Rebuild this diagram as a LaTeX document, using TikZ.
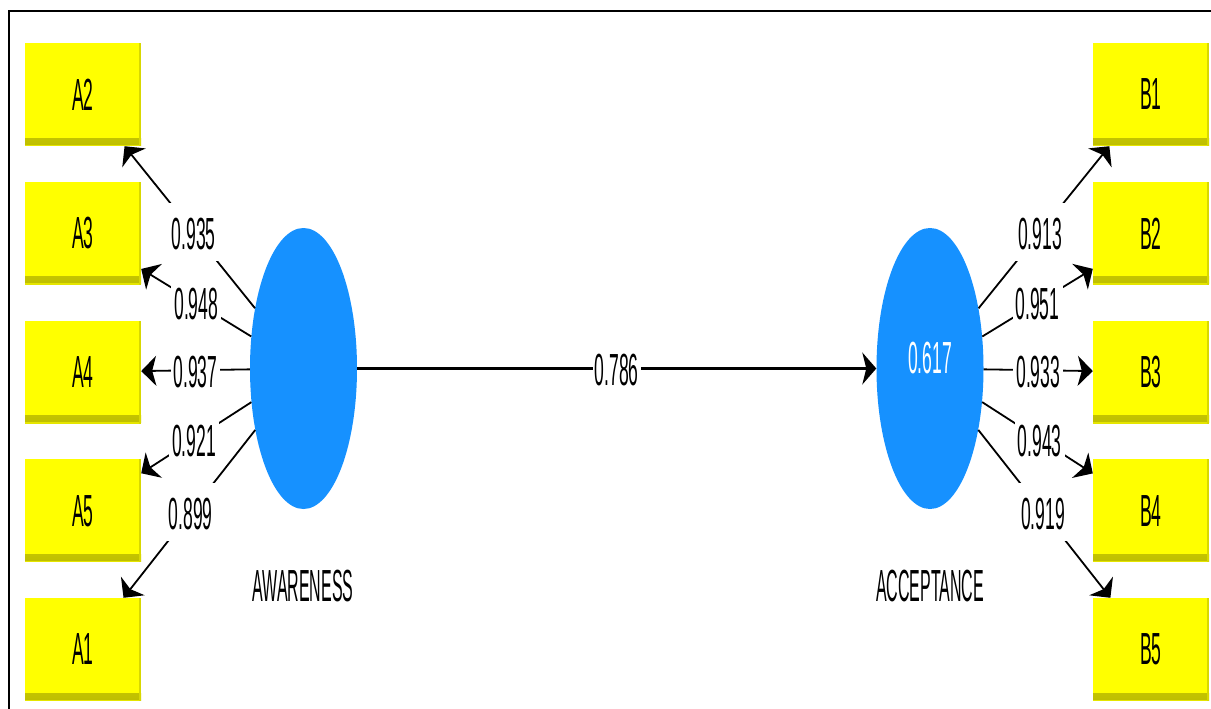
\documentclass[tikz,border=0pt]{standalone}
\usepackage{fontspec}
\setmainfont{Liberation Sans}
\newfontfamily\cond[FakeStretch=0.39]{Liberation Sans}
\newfontfamily\condB[FakeStretch=0.355]{Liberation Sans}
\usetikzlibrary{arrows.meta,shapes.geometric}
\definecolor{plsyellow}{RGB}{255,255,0}
\definecolor{plsshade}{RGB}{190,190,0}
\definecolor{plsblue}{RGB}{22,145,255}
\begin{document}
\begin{tikzpicture}[x=1pt,y=-1pt,
  indic/.style={fill=plsyellow, minimum width=116pt, minimum height=103pt, inner sep=0pt,
    font=\cond\fontsize{45}{50}\selectfont,
    path picture={\shade[top color=plsyellow, bottom color=plsshade] ([yshift=1pt]path picture bounding box.south west) rectangle ([yshift=8pt]path picture bounding box.south east);
                  \fill[plsyellow!60!plsshade] (path picture bounding box.south west) rectangle ([yshift=1.5pt]path picture bounding box.south east);
                  \fill[plsshade!60!plsyellow] ([xshift=-2pt]path picture bounding box.south east) rectangle (path picture bounding box.north east);}},
  latent/.style={ellipse, fill=plsblue, minimum width=107pt, minimum height=281pt, inner sep=0pt,
    text=white, font=\cond\fontsize{45}{50}\selectfont},
  load/.style={line width=1.8pt, -{Stealth[length=15pt,width=30pt,inset=4pt]}},
  pathl/.style={line width=2.2pt, -{Stealth[length=14pt,width=32pt,inset=4pt]}},
  coef/.style={fill=white, inner xsep=3pt, inner ysep=10pt, text height=36pt, text depth=2pt,
    font=\cond\fontsize{45}{50}\selectfont},
  lvname/.style={font=\condB\fontsize{45}{50}\selectfont}
]
\useasboundingbox (0,0) rectangle (1211,709);
\fill[white] (0,0) rectangle (1211,709);
% frame
\coordinate (fbl) at (9,709);
\coordinate (ftl) at (9,11);
\coordinate (ftr) at (1211,11);
\draw[line width=2.5pt] (fbl) -- (ftl) -- (ftr);

% latent variables
\node[latent] (aw) at (303.5,368.5) {};
\node[latent, text depth=22pt] (ac) at (930,368.5) {0.617};
\node[lvname] (awl) at (303,586) {AWARENESS};
\node[lvname] (acl) at (930,586) {ACCEPTANCE};

% indicators left
\node[indic] (A2) at (83,94.5) {A2};
\node[indic] (A3) at (83,233.3) {A3};
\node[indic] (A4) at (83,372) {A4};
\node[indic] (A5) at (83,510.8) {A5};
\node[indic] (A1) at (83,649.5) {A1};
% indicators right
\node[indic] (B1) at (1151,94.5) {B1};
\node[indic] (B2) at (1151,233.3) {B2};
\node[indic] (B3) at (1151,372) {B3};
\node[indic] (B4) at (1151,510.8) {B4};
\node[indic] (B5) at (1151,649.5) {B5};

% outer loadings
\draw[load] (aw) -- (A2) node[coef, pos=0.47] {0.935};
\draw[load] (aw) -- (A3) node[coef, pos=0.5] {0.948};
\draw[load] (aw) -- (A4) node[coef, pos=0.5] {0.937};
\draw[load] (aw) -- (A5) node[coef, pos=0.52] {0.921};
\draw[load] (aw) -- (A1) node[coef, pos=0.49] {0.899};

\draw[load] (ac) -- (B1) node[coef, pos=0.47] {0.913};
\draw[load] (ac) -- (B2) node[coef, pos=0.5] {0.951};
\draw[load] (ac) -- (B3) node[coef, pos=0.5] {0.933};
\draw[load] (ac) -- (B4) node[coef, pos=0.52] {0.943};
\draw[load] (ac) -- (B5) node[coef, pos=0.49] {0.919};

% structural path
\draw[pathl] (aw) -- (ac) node[coef, midway, inner xsep=2pt] {0.786};
\end{tikzpicture}
\end{document}
